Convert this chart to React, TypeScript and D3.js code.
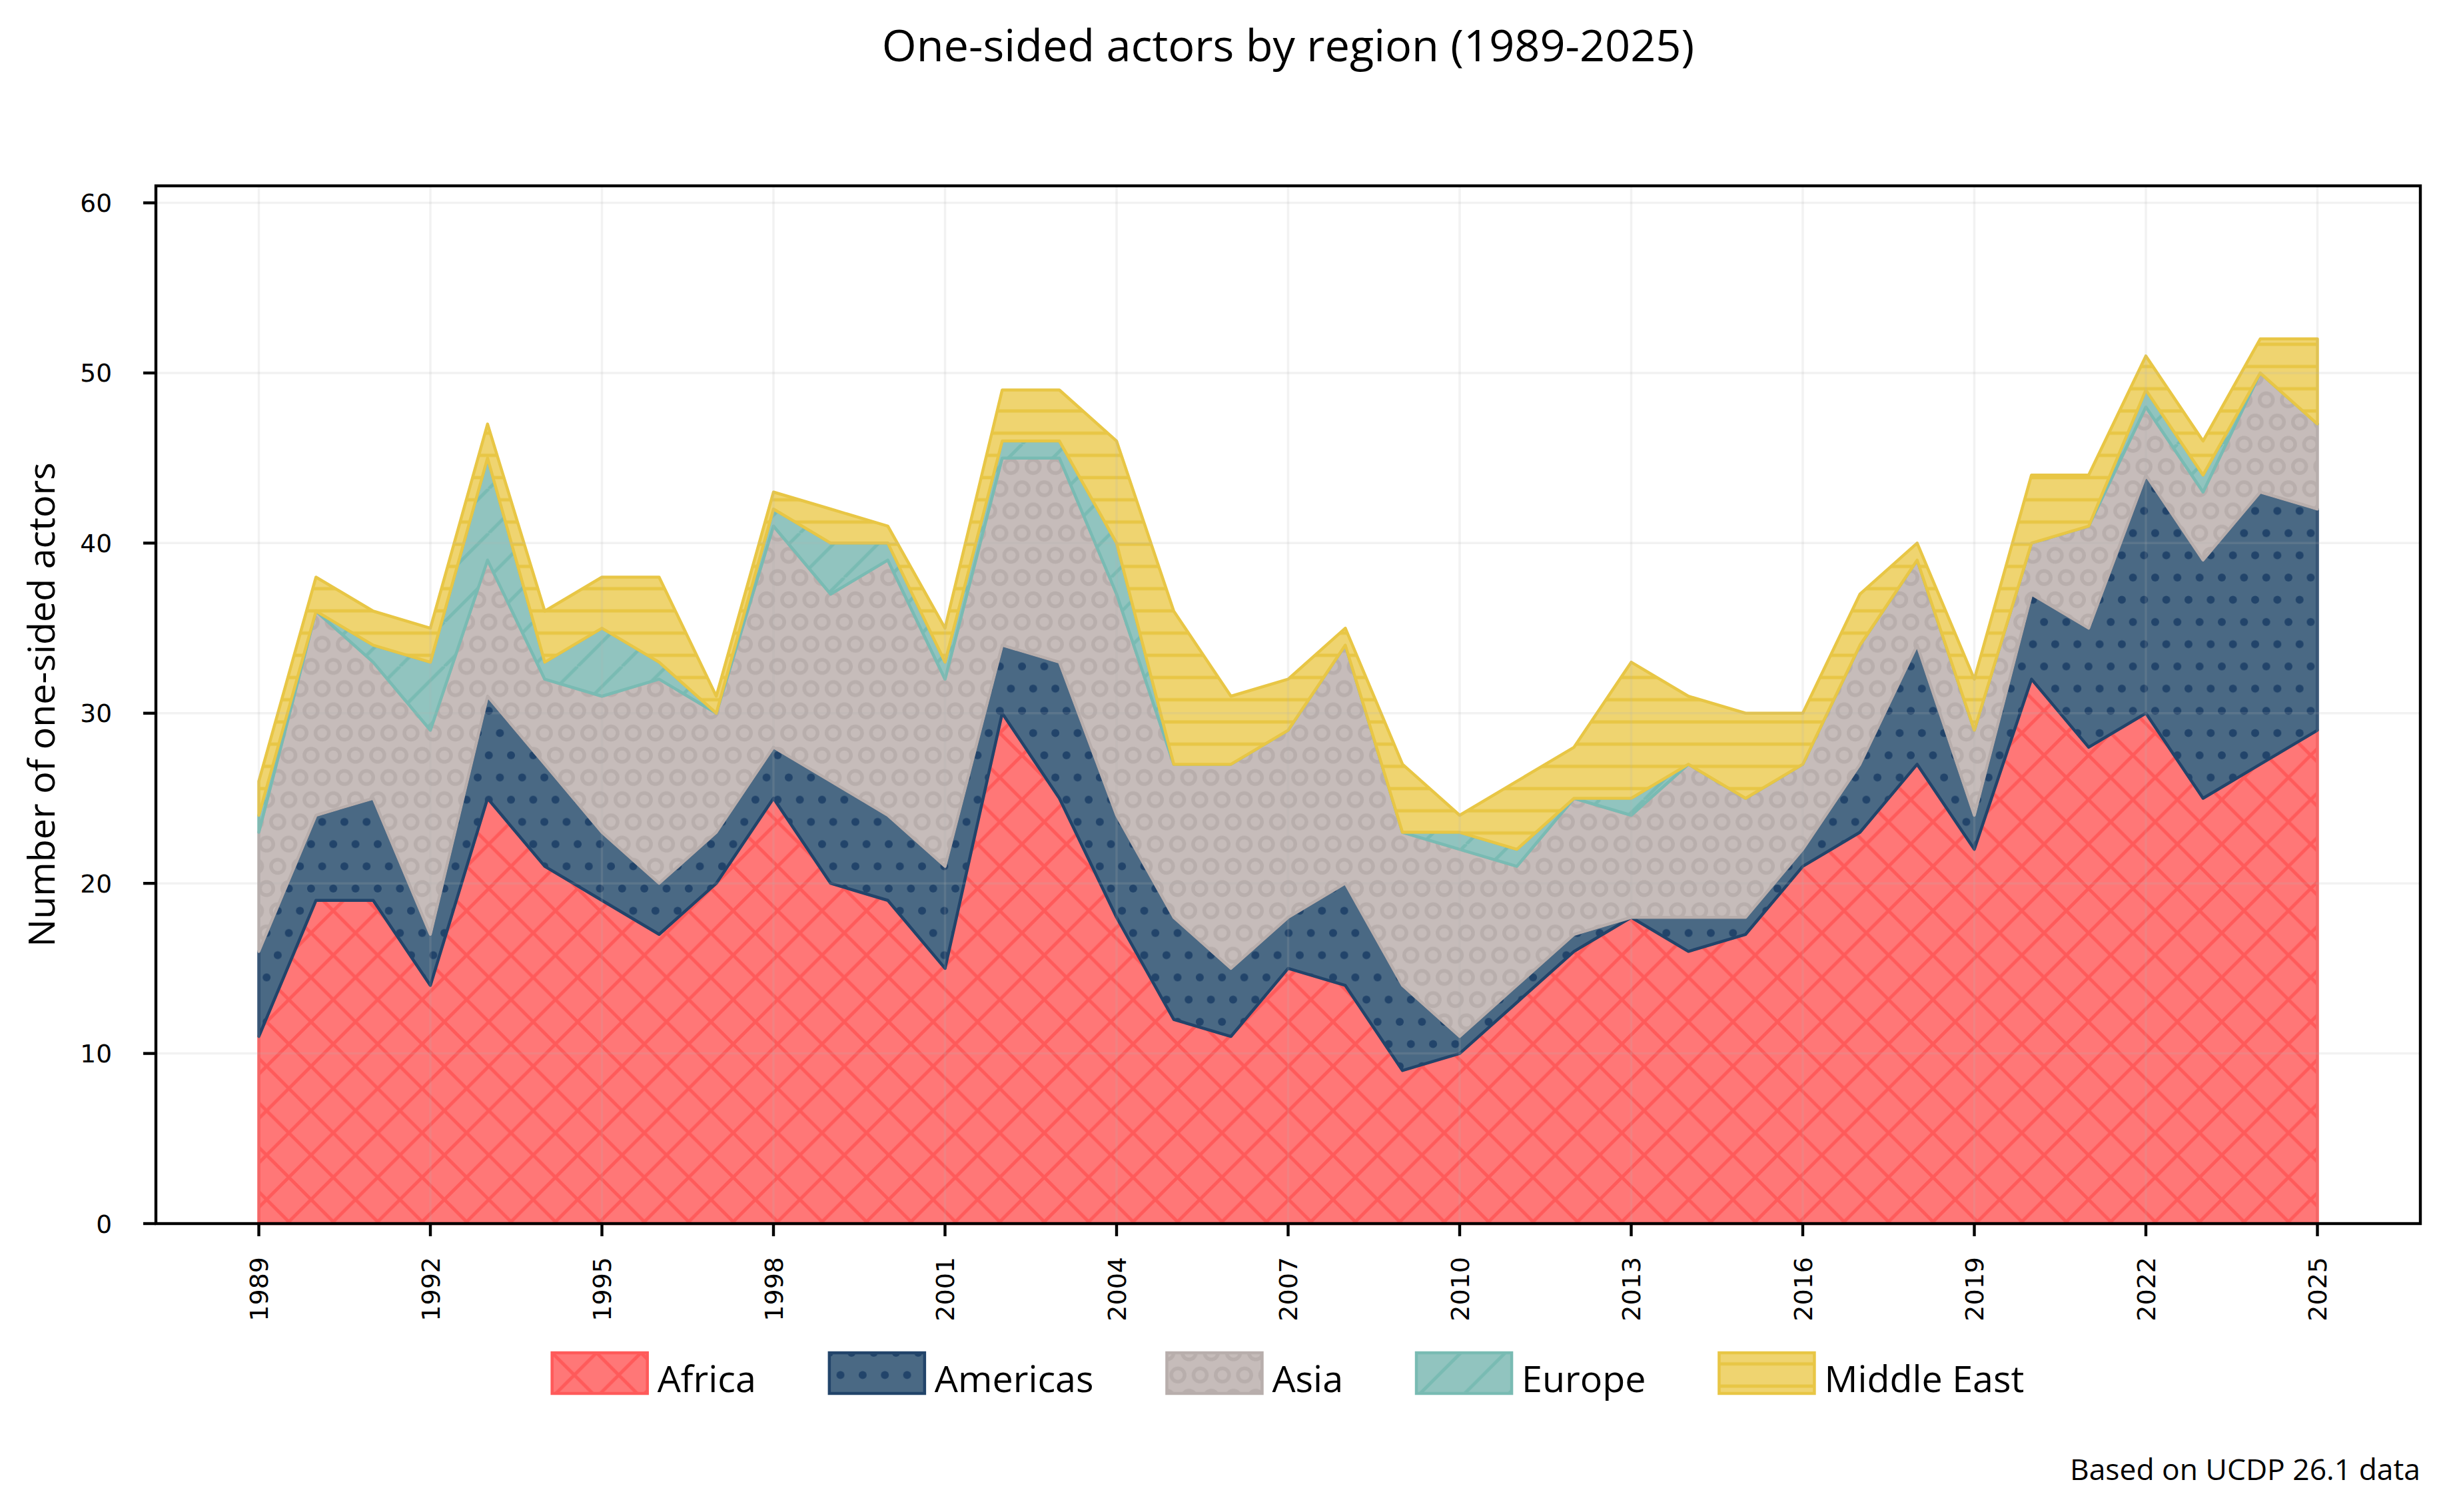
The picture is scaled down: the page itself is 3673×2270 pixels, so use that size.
import React, { useEffect, useRef } from 'react';
import * as d3 from 'd3';

// values
const years = [1989, 1990, 1991, 1992, 1993, 1994, 1995, 1996, 1997, 1998, 1999, 2000, 2001, 2002, 2003, 2004, 2005, 2006, 2007, 2008, 2009, 2010, 2011, 2012, 2013, 2014, 2015, 2016, 2017, 2018, 2019, 2020, 2021, 2022, 2023, 2024, 2025];
const africa = [11, 19, 19, 14, 25, 21, 19, 17, 20, 25, 20, 19, 15, 30, 25, 18, 12, 11, 15, 14, 9, 10, 13, 16, 18, 16, 17, 21, 23, 27, 22, 32, 28, 30, 25, 27, 29];
const americas = [5, 5, 6, 3, 6, 6, 4, 3, 3, 3, 6, 5, 6, 4, 8, 6, 6, 4, 3, 6, 5, 1, 1, 1, 0, 2, 1, 1, 4, 7, 2, 5, 7, 14, 14, 16, 13];
const asia = [7, 12, 8, 12, 8, 5, 8, 12, 7, 13, 11, 15, 11, 11, 12, 13, 9, 12, 11, 14, 9, 11, 7, 8, 6, 9, 7, 5, 7, 5, 5, 3, 6, 4, 4, 7, 5];
const europe = [1, 0, 1, 4, 6, 1, 4, 1, 0, 1, 3, 1, 1, 1, 1, 3, 0, 0, 0, 0, 0, 1, 1, 0, 1, 0, 0, 0, 0, 0, 0, 0, 0, 1, 1, 0, 0];
const middleEast = [2, 2, 2, 2, 2, 3, 3, 5, 1, 1, 2, 1, 2, 3, 3, 6, 9, 4, 3, 1, 4, 1, 4, 3, 8, 4, 5, 3, 3, 1, 3, 4, 3, 2, 2, 2, 5];

const regions = ['Africa', 'Americas', 'Asia', 'Europe', 'Middle East'];
const seriesValues = [africa, americas, asia, europe, middleEast];
const xTicks = [1989, 1992, 1995, 1998, 2001, 2004, 2007, 2010, 2013, 2016, 2019, 2022, 2025];
const yTicks = [0, 10, 20, 30, 40, 50, 60];

const fills = ['#ff7777', '#4a6984', '#c6bcba', '#91c4bf', '#efd470'];
const inks = ['#ff5a5a', '#22446a', '#b8aeac', '#79bbb3', '#e8c645'];

const W = 3673;
const H = 2270;
const margin = { top: 279, right: 40, bottom: 433, left: 234 };
const textFont = '"Open Sans", "Noto Sans", sans-serif';
const tickFont = '"DejaVu Sans", sans-serif';

function addPatterns(defs: any) {
  const s = 66.7;
  const h = s / 2;

  const mk = (i: number, w: number, hh: number) => {
    const p = defs.append('pattern')
      .attr('id', 'pat-' + i)
      .attr('patternUnits', 'userSpaceOnUse')
      .attr('width', w)
      .attr('height', hh);
    p.append('rect').attr('width', w).attr('height', hh).attr('fill', fills[i]);
    return p;
  };

  // Africa: cross hatch
  mk(0, s, s).append('path')
    .attr('d', [-1, 0, 1].map(k => `M${k * s},0L${k * s + s},${s}M${k * s},${s}L${k * s + s},0`).join(''))
    .attr('stroke', inks[0])
    .attr('stroke-width', 5)
    .attr('fill', 'none');

  // Americas: dots, alternate rows shifted
  const lattice = [[0, 0], [h, 0], [0, 2 * h], [h, 2 * h], [h / 2, h]];
  const pd = mk(1, h, 2 * h);
  lattice.forEach(([cx, cy]) => {
    pd.append('circle').attr('cx', cx).attr('cy', cy).attr('r', 6).attr('fill', inks[1]);
  });

  // Asia: rings
  const pr = mk(2, h, 2 * h);
  lattice.forEach(([cx, cy]) => {
    pr.append('circle').attr('cx', cx).attr('cy', cy).attr('r', 10)
      .attr('fill', 'none').attr('stroke', inks[2]).attr('stroke-width', 5.5);
  });

  // Europe: forward slashes
  mk(3, s, s).append('path')
    .attr('d', [-1, 0, 1].map(k => `M${k * s},${s}L${k * s + s},0`).join(''))
    .attr('stroke', inks[3])
    .attr('stroke-width', 5)
    .attr('fill', 'none');

  // Middle East: horizontal lines
  mk(4, h, h).append('path')
    .attr('d', `M0,${h / 2}L${h},${h / 2}`)
    .attr('stroke', inks[4])
    .attr('stroke-width', 5);
}

function drawChart(node: SVGSVGElement) {
  const svg = d3.select(node);
  svg.selectAll('*').remove();

  const defs = svg.append('defs');
  addPatterns(defs);

  const x0 = margin.left;
  const x1 = W - margin.right;
  const y0 = H - margin.bottom;
  const y1 = margin.top;

  const span = years[years.length - 1] - years[0];
  const xScale = d3.scaleLinear()
    .domain([years[0] - 0.05 * span, years[years.length - 1] + 0.05 * span])
    .range([x0, x1]);
  const yScale = d3.scaleLinear().domain([0, 61]).range([y0, y1]);

  const table = years.map((yr, i) => {
    const row: any = { year: yr };
    regions.forEach((r, k) => { row[r] = seriesValues[k][i]; });
    return row;
  });

  const stack = d3.stack().keys(regions)(table);

  const area = d3.area<any>()
    .x(d => xScale(d.data.year))
    .y0(d => yScale(d[0]))
    .y1(d => yScale(d[1]));

  const layers = svg.append('g');
  stack.forEach((layer, i) => {
    layers.append('path')
      .attr('d', area(layer as any))
      .attr('fill', `url(#pat-${i})`)
      .attr('stroke', inks[i])
      .attr('stroke-width', 4.5)
      .attr('stroke-linejoin', 'round');
  });

  // grid drawn over the areas, very faint
  const grid = svg.append('g')
    .attr('stroke', '#b0b0b0')
    .attr('stroke-opacity', 0.17)
    .attr('stroke-width', 3.5);
  yTicks.forEach(t => {
    grid.append('line').attr('x1', x0).attr('x2', x1).attr('y1', yScale(t)).attr('y2', yScale(t));
  });
  xTicks.forEach(t => {
    grid.append('line').attr('x1', xScale(t)).attr('x2', xScale(t)).attr('y1', y0).attr('y2', y1);
  });

  // frame
  svg.append('rect')
    .attr('x', x0).attr('y', y1)
    .attr('width', x1 - x0).attr('height', y0 - y1)
    .attr('fill', 'none')
    .attr('stroke', '#000')
    .attr('stroke-width', 4.4);

  // y axis ticks
  const yAxis = svg.append('g');
  yTicks.forEach(t => {
    yAxis.append('line')
      .attr('x1', x0 - 19).attr('x2', x0)
      .attr('y1', yScale(t)).attr('y2', yScale(t))
      .attr('stroke', '#000').attr('stroke-width', 4.4);
    yAxis.append('text')
      .attr('x', 168)
      .attr('y', yScale(t))
      .attr('dy', '0.36em')
      .attr('text-anchor', 'end')
      .style('font-family', tickFont)
      .style('font-size', '37.5px')
      .text(t);
  });

  // x axis ticks
  const xAxis = svg.append('g');
  xTicks.forEach(t => {
    xAxis.append('line')
      .attr('x1', xScale(t)).attr('x2', xScale(t))
      .attr('y1', y0).attr('y2', y0 + 19)
      .attr('stroke', '#000').attr('stroke-width', 4.4);
    xAxis.append('text')
      .attr('transform', `translate(${xScale(t)},${1887}) rotate(-90)`)
      .attr('dy', '0.36em')
      .attr('text-anchor', 'end')
      .style('font-family', tickFont)
      .style('font-size', '38px')
      .text(t);
  });

  const cx = (x0 + x1) / 2;

  svg.append('text')
    .attr('x', cx)
    .attr('y', 92)
    .attr('text-anchor', 'middle')
    .style('font-family', textFont)
    .style('font-size', '66.7px')
    .text('One-sided actors by region (1989-2025)');

  svg.append('text')
    .attr('transform', `translate(82,${(y0 + y1) / 2}) rotate(-90)`)
    .attr('text-anchor', 'middle')
    .style('font-family', textFont)
    .style('font-size', '55.6px')
    .text('Number of one-sided actors');

  svg.append('text')
    .attr('x', x1)
    .attr('y', 2222)
    .attr('text-anchor', 'end')
    .style('font-family', textFont)
    .style('font-size', '44.4px')
    .text('Based on UCDP 26.1 data');

  // legend, one row, centred under the axes
  const handleW = 143;
  const handleH = 61;
  const textGap = 15;
  const colGap = 110;
  const legendTop = 2031;

  const legend = svg.append('g');
  const items = regions.map((r, i) => {
    const g = legend.append('g');
    g.append('rect')
      .attr('width', handleW)
      .attr('height', handleH)
      .attr('fill', `url(#pat-${i})`)
      .attr('stroke', inks[i])
      .attr('stroke-width', 4.5);
    const label = g.append('text')
      .attr('x', handleW + textGap)
      .attr('y', 59)
      .style('font-family', textFont)
      .style('font-size', '55.6px')
      .text(r);
    const tw = (label.node() as SVGTextElement).getComputedTextLength();
    return { g, w: handleW + textGap + tw };
  });
  const total = d3.sum(items, d => d.w) + colGap * (items.length - 1);
  let xpos = cx - total / 2;
  items.forEach(it => {
    it.g.attr('transform', `translate(${xpos},${legendTop})`);
    xpos += it.w + colGap;
  });
}

export default function App() {
  const ref = useRef<SVGSVGElement>(null);

  useEffect(() => {
    document.body.style.margin = '0';
    if (ref.current) drawChart(ref.current);
  }, []);

  return (
    <svg
      ref={ref}
      width={W}
      height={H}
      viewBox={`0 0 ${W} ${H}`}
      style={{ display: 'block', background: '#fff' }}
    />
  );
}
